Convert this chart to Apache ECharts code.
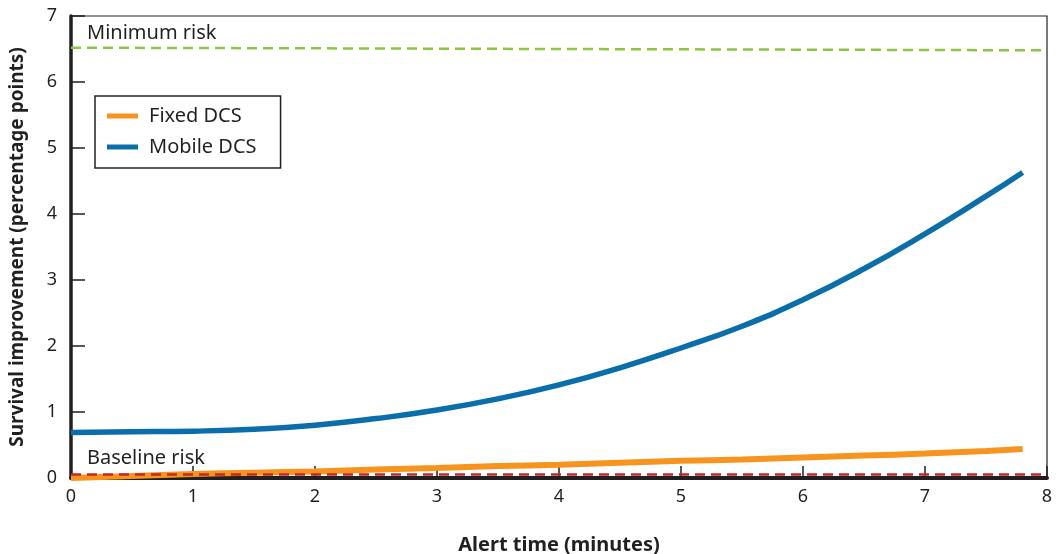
<!DOCTYPE html>
<html>
<head>
<meta charset="utf-8">
<script src="https://cdn.jsdelivr.net/npm/echarts@6/dist/echarts.min.js"></script>
<style>
html,body{margin:0;padding:0;background:#fff;}
#chart{width:1062px;height:554px;}
</style>
</head>
<body>
<div id="chart"></div>
<script>
// Data
var alertTime = [0, 0.5, 1, 1.5, 2, 2.5, 3, 3.5, 4, 4.5, 5, 5.5, 6, 6.5, 7, 7.5, 7.8];
var mobileDCS = [0.69, 0.70, 0.71, 0.74, 0.80, 0.90, 1.03, 1.20, 1.41, 1.67, 1.97, 2.30, 2.70, 3.17, 3.70, 4.27, 4.63];
var fixedDCS  = [0.00, 0.03, 0.06, 0.08, 0.10, 0.13, 0.15, 0.18, 0.20, 0.23, 0.26, 0.28, 0.31, 0.34, 0.37, 0.41, 0.44];
var minimumRisk = [6.52, 6.48];   // at x = 0 and x = 8
var baselineRisk = 0.05;
var xTicks = [0, 1, 2, 3, 4, 5, 6, 7, 8];
var yTicks = [0, 1, 2, 3, 4, 5, 6, 7];

var FONT = '"Noto Sans", "Open Sans", sans-serif';
var INK = '#231f20';

function pairs(xs, ys){ return xs.map(function(x,i){ return [x, ys[i]]; }); }

var chart = echarts.init(document.getElementById('chart'), null, {renderer:'canvas'});
chart.setOption({
  animation: false,
  backgroundColor: '#fff',
  textStyle: {fontFamily: FONT},
  grid: {left: 71, right: 15, top: 16, bottom: 76, show: true, borderColor: INK, borderWidth: 1.2,
         containLabel: false, outerBoundsMode: 'none'},
  legend: {
    show: true,
    orient: 'vertical',
    left: 95, top: 96,
    backgroundColor: '#fff',
    borderColor: INK, borderWidth: 1.5, borderRadius: 0,
    padding: [10, 24, 11, 12],
    itemGap: 11,
    itemWidth: 31, itemHeight: 5,
    icon: 'rect',
    data: ['Fixed DCS', 'Mobile DCS'],
    textStyle: {fontFamily: FONT, fontSize: 20, color: INK, padding: [0,0,0,6]}
  },
  xAxis: {
    type: 'value', min: xTicks[0], max: xTicks[xTicks.length-1], interval: 1,
    name: 'Alert time (minutes)', nameLocation: 'middle', nameGap: 57,
    nameTextStyle: {fontFamily: FONT, fontSize: 20, fontWeight: 'bold', color: INK},
    axisLine: {show: true, onZero: false, lineStyle: {color: INK, width: 4}},
    axisTick: {show: true, inside: true, length: 12, lineStyle: {color: INK, width: 1.5}},
    axisLabel: {fontFamily: FONT, fontSize: 18, color: INK, margin: 10},
    splitLine: {show: false}
  },
  yAxis: {
    type: 'value', min: yTicks[0], max: yTicks[yTicks.length-1], interval: 1,
    name: 'Survival improvement (percentage points)', nameLocation: 'middle', nameGap: 44,
    nameTextStyle: {fontFamily: FONT, fontSize: 19, fontWeight: 'bold', color: INK},
    axisLine: {show: true, onZero: false, lineStyle: {color: INK, width: 3.5}},
    axisTick: {show: true, inside: true, length: 14, lineStyle: {color: INK, width: 1.5}},
    axisLabel: {fontFamily: FONT, fontSize: 18, color: INK, margin: 14},
    splitLine: {show: false}
  },
  series: [
    {
      name: 'Reference lines', type: 'line', data: [], silent: true,
      markLine: {
        silent: true, symbol: ['none','none'], label: {show: false}, animation: false,
        data: [
          [{coord: [0, minimumRisk[0]], lineStyle: {color: '#8dc63f', width: 2.5, type: [10, 6]}},
           {coord: [8, minimumRisk[1]]}],
          [{coord: [0, baselineRisk], lineStyle: {color: '#c1272d', width: 2.5, type: [10, 6]}},
           {coord: [8, baselineRisk]}]
        ]
      }
    },
    {
      name: 'Fixed DCS', type: 'line', data: pairs(alertTime, fixedDCS),
      smooth: true, showSymbol: false, symbol: 'none',
      color: '#f7941d',
      lineStyle: {color: '#f7941d', width: 6, cap: 'butt'}
    },
    {
      name: 'Mobile DCS', type: 'line', data: pairs(alertTime, mobileDCS),
      smooth: true, showSymbol: false, symbol: 'none',
      color: '#0a6eab',
      lineStyle: {color: '#0a6eab', width: 5.5, cap: 'butt'}
    }
  ],
  graphic: [
    {type: 'text', left: 87, top: 23, silent: true,
     style: {text: 'Minimum risk', fontFamily: FONT, fontSize: 20, fill: INK}},
    {type: 'text', left: 87, top: 448, silent: true,
     style: {text: 'Baseline risk', fontFamily: FONT, fontSize: 20, fill: INK}}
  ]
});
</script>
</body>
</html>
